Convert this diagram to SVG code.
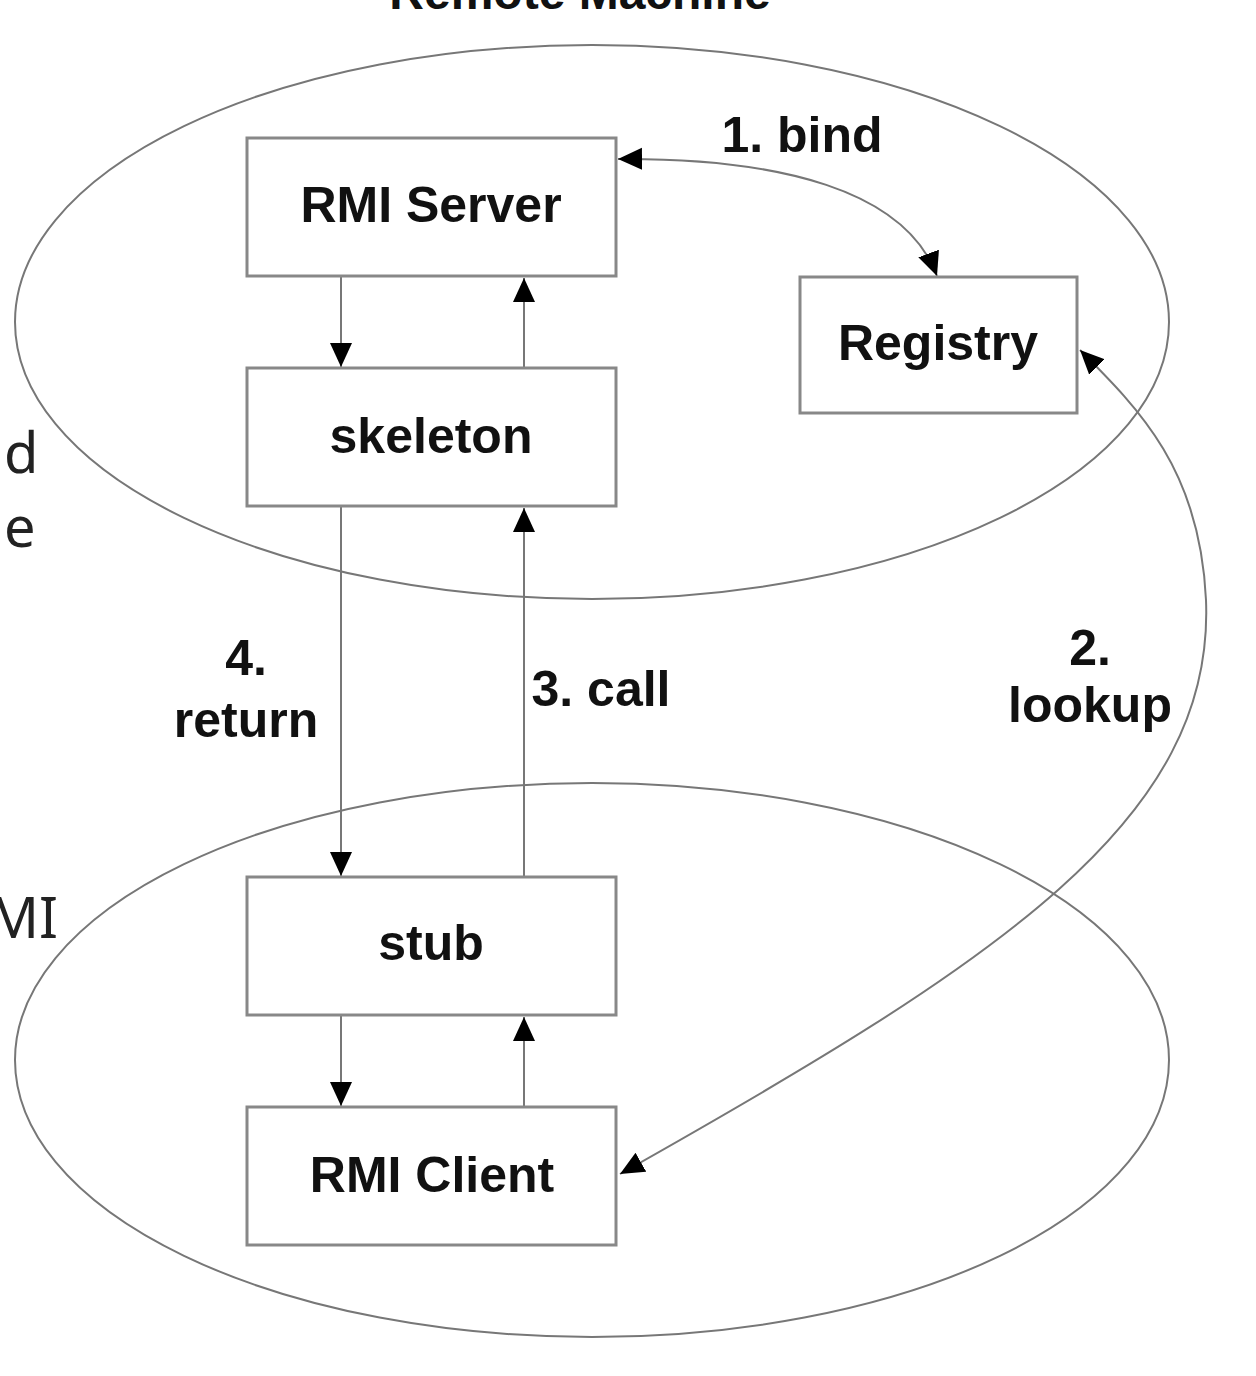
<svg xmlns="http://www.w3.org/2000/svg" width="1256" height="1376" viewBox="0 0 1256 1376">
<style>
.bg{fill:#fff}
.ell{fill:none;stroke:#777;stroke-width:2}
.box{fill:#fff;stroke:#888;stroke-width:3}
.lbl{font-family:"Liberation Sans",Arial,sans-serif;font-weight:bold;font-size:50px;fill:#111;text-anchor:middle}
.side{font-family:"Noto Sans","DejaVu Sans",sans-serif;font-size:56px;fill:#222}
.con{fill:none;stroke:#777;stroke-width:2}
</style>
<defs>
<marker id="ah" markerUnits="userSpaceOnUse" markerWidth="26" markerHeight="24" refX="24" refY="11" orient="auto-start-reverse" viewBox="0 0 26 24">
<path d="M0,0 L24,11 L0,22 Z" fill="#000"/>
</marker>
</defs>
<rect class="bg" width="1256" height="1376"/>
<text class="lbl" x="580" y="9" style="font-size:48px">Remote Machine</text>
<text class="side" x="4" y="473">d</text>
<text class="side" x="4" y="547">e</text>
<text class="side" x="58" y="938" text-anchor="end">MI</text>
<g id="ellipses">
<ellipse class="ell" cx="592" cy="322" rx="577" ry="277"/>
<ellipse class="ell" cx="592" cy="1060" rx="577" ry="277"/>
</g>
<g id="connectors">
<path class="con" d="M341,277 L341,367" marker-end="url(#ah)"/>
<path class="con" d="M524,367 L524,278" marker-end="url(#ah)"/>
<path class="con" d="M341,507 L341,876" marker-end="url(#ah)"/>
<path class="con" d="M524,876 L524,508" marker-end="url(#ah)"/>
<path class="con" d="M341,1016 L341,1106" marker-end="url(#ah)"/>
<path class="con" d="M524,1106 L524,1017" marker-end="url(#ah)"/>
<path class="con" d="M618,159 C780,158 905,190 937,276" marker-start="url(#ah)" marker-end="url(#ah)"/>
<path class="con" d="M620,1174 C1000,960 1215,820 1206,600 C1200,470 1140,410 1080,350" marker-start="url(#ah)" marker-end="url(#ah)"/>
</g>
<g id="server"><rect class="box" x="247" y="138" width="369" height="138"/><text class="lbl" x="431" y="222">RMI Server</text></g>
<g id="skeleton"><rect class="box" x="247" y="368" width="369" height="138"/><text class="lbl" x="431" y="453">skeleton</text></g>
<g id="registry"><rect class="box" x="800" y="277" width="277" height="136"/><text class="lbl" x="938" y="360">Registry</text></g>
<g id="stub"><rect class="box" x="247" y="877" width="369" height="138"/><text class="lbl" x="431" y="960">stub</text></g>
<g id="client"><rect class="box" x="247" y="1107" width="369" height="138"/><text class="lbl" x="432" y="1192">RMI Client</text></g>
<g id="labels">
<text class="lbl" x="802" y="152">1. bind</text>
<text class="lbl" x="1090" y="665">2.</text>
<text class="lbl" x="1090" y="722">lookup</text>
<text class="lbl" x="601" y="706">3. call</text>
<text class="lbl" x="246" y="675">4.</text>
<text class="lbl" x="246" y="737">return</text>
</g>
</svg>
